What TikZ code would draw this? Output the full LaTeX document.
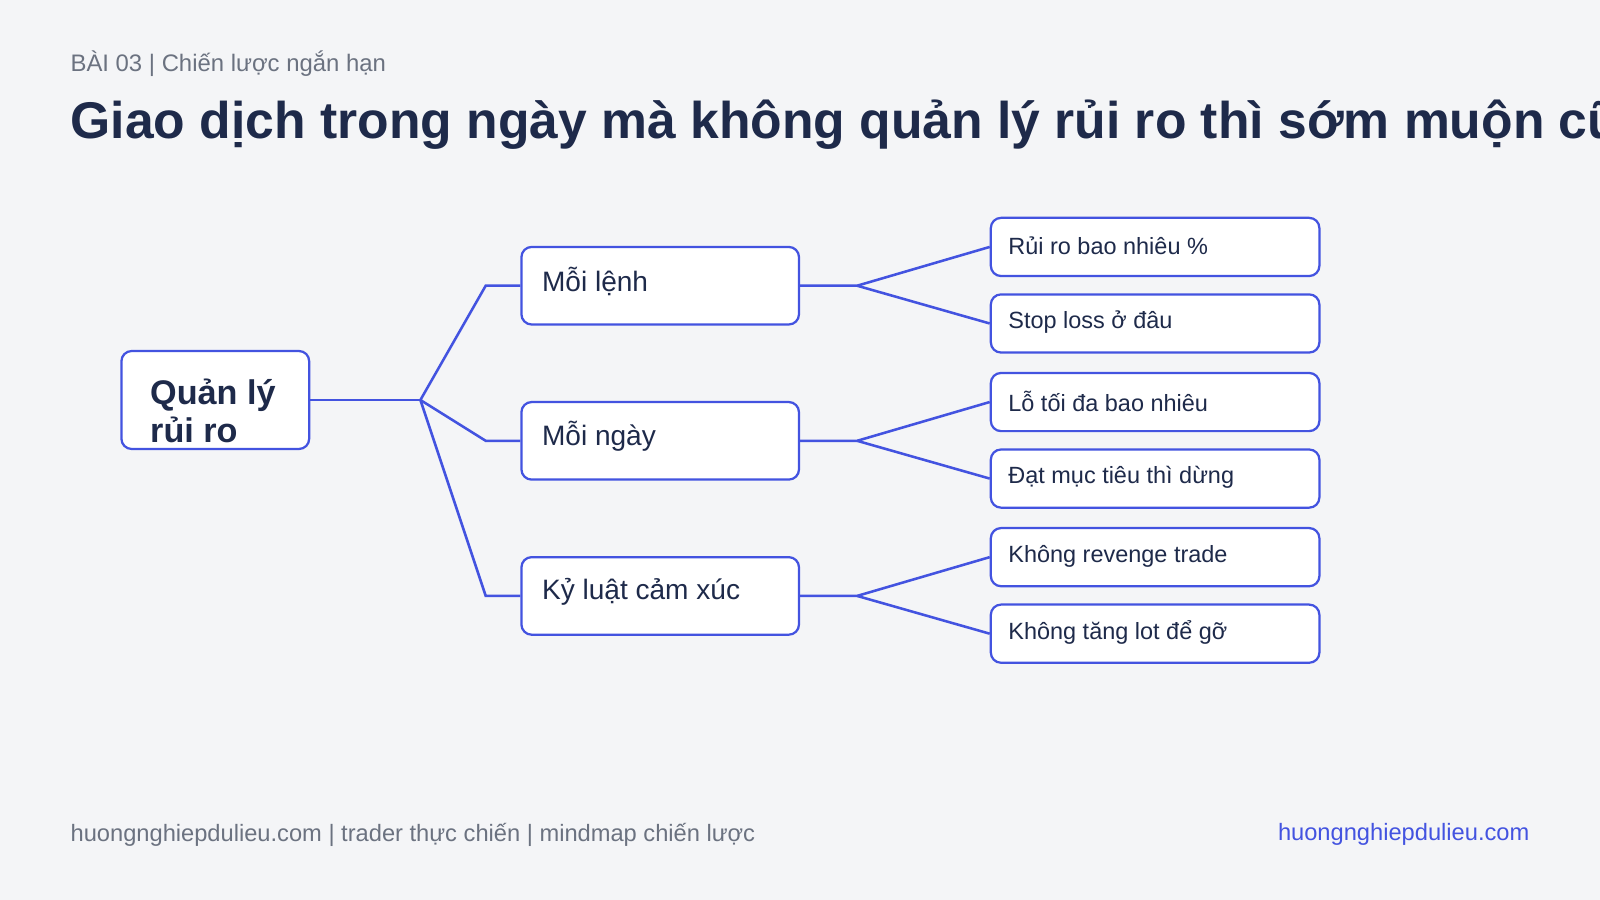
\documentclass[tikz,border=0pt]{standalone}
\usepackage{fontspec}
\setmainfont{Liberation Sans}
\definecolor{bg}{HTML}{F4F5F7}
\definecolor{navy}{HTML}{1E2A4A}
\definecolor{gr}{HTML}{6B7280}
\definecolor{ln}{HTML}{4353E0}
\definecolor{lk}{HTML}{4353E0}
\begin{document}
\begin{tikzpicture}[x=1pt,y=-1pt,
  box/.style={draw=ln,line width=2.2pt,fill=white,rounded corners=10pt,inner sep=0pt},
  con/.style={draw=ln,line width=2.5pt},
  every node/.append style={inner sep=0pt}]
\fill[bg] (0,0) rectangle (1568,882);
\useasboundingbox (0,0) rectangle (1568,882);
\node[anchor=west,text=gr,font=\fontsize{23.4}{28}\selectfont] (hdr) at (69,62) {BÀI 03 | Chiến lược ngắn hạn};
\node[anchor=west,text=navy,font=\fontsize{50.6}{58}\bfseries\selectfont] (ttl) at (69,122) {Giao dịch trong ngày mà không quản lý rủi ro thì sớm muộn cũng cháy};
% root
\node[box,minimum width=184pt,minimum height=96pt] (root) at (211,392) {};
\node[anchor=west,align=left,text=navy,font=\fontsize{33.5}{37}\bfseries\selectfont] (rootT) at (147,403) {Quản lý\\rủi ro};
% mids
\foreach \n/\y/\t in {m1/280/Mỗi lệnh, m2/432/Mỗi ngày, m3/584/Kỷ luật cảm xúc}{
  \node[box,minimum width=272pt,minimum height=76pt] (\n) at (647,\y) {};
  \node[anchor=west,text=navy,font=\fontsize{27.5}{32}\selectfont] (\n t) at (531,\y-4) {\t};
}
% leaves
\foreach \n/\y/\t in {l1/242/Rủi ro bao nhiêu \%, l2/317/Stop loss ở đâu, l3/394/Lỗ tối đa bao nhiêu, l4/469/Đạt mục tiêu thì dừng, l5/546/Không revenge trade, l6/621/Không tăng lot để gỡ}{
  \node[box,minimum width=322pt,minimum height=57pt] (\n) at (1132,\y) {};
  \node[anchor=west,text=navy,font=\fontsize{23}{27}\selectfont] (\n t) at (988,\y-1) {\t};
}
\coordinate (j) at (412,392);
\draw[con] (root.east) -- (j);
\draw[con] (j) -- (476,280) -- (m1.west);
\draw[con] (j) -- (476,432) -- (m2.west);
\draw[con] (j) -- (476,584) -- (m3.west);
\foreach \m/\a/\b/\y in {m1/l1/l2/280, m2/l3/l4/432, m3/l5/l6/584}{
  \coordinate (k\m) at (840,\y);
  \draw[con] (\m.east) -- (k\m) -- (\a.west);
  \draw[con] (k\m) -- (\b.west);
}
\node[anchor=west,text=gr,font=\fontsize{23.2}{28}\selectfont] (ft) at (69,818) {huongnghiepdulieu.com | trader thực chiến | mindmap chiến lược};
\node[anchor=east,text=lk,font=\fontsize{23.2}{28}\selectfont] (lnk) at (1499,818) {huongnghiepdulieu.com};
\end{tikzpicture}
\end{document}
